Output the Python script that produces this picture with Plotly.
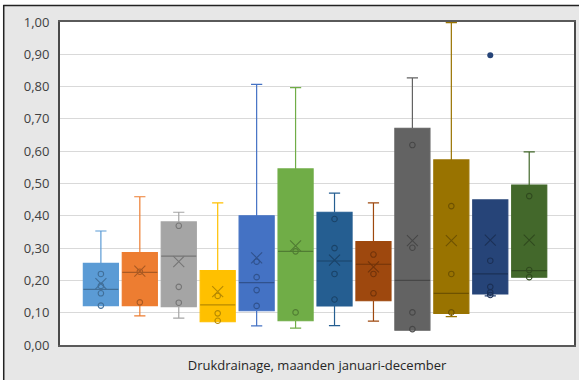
import plotly.graph_objects as go

months = ["jan", "feb", "mrt", "apr", "mei", "jun", "jul", "aug", "sep", "okt", "nov", "dec"]
colors = ["#5B9BD5", "#ED7D31", "#A5A5A5", "#FFC000", "#4472C4", "#70AD47",
          "#255E91", "#9E480E", "#636363", "#997300", "#264478", "#43682B"]

upper = [0.353, 0.459, 0.411, 0.440, 0.807, 0.797, 0.470, 0.440, 0.827, 0.998, 0.449, 0.598]
q3 = [0.253, 0.286, 0.381, 0.230, 0.400, 0.545, 0.411, 0.320, 0.671, 0.573, 0.449, 0.495]
median = [0.172, 0.225, 0.275, 0.124, 0.193, 0.290, 0.260, 0.250, 0.200, 0.160, 0.220, 0.230]
q1 = [0.122, 0.122, 0.119, 0.072, 0.106, 0.075, 0.121, 0.137, 0.046, 0.098, 0.158, 0.210]
lower = [0.122, 0.090, 0.083, 0.072, 0.059, 0.052, 0.060, 0.074, 0.046, 0.088, 0.152, 0.210]
mean = [0.190, 0.229, 0.258, 0.165, 0.270, 0.307, 0.263, 0.242, 0.323, 0.323, 0.325, 0.325]
inner_points = [
    [0.22, 0.183, 0.16, 0.122],
    [0.227, 0.132],
    [0.369, 0.18, 0.131],
    [0.152, 0.098, 0.075],
    [0.258, 0.21, 0.17, 0.121],
    [0.29, 0.101],
    [0.39, 0.30, 0.22, 0.141],
    [0.28, 0.22, 0.16],
    [0.619, 0.301, 0.101, 0.049],
    [0.43, 0.22, 0.101],
    [0.261, 0.18, 0.163, 0.155],
    [0.461, 0.232, 0.21],
]
outlier_month = [10]
outlier_value = [0.897]

x_title = "Drukdrainage, maanden januari-december"
y_ticks = [0.0, 0.1, 0.2, 0.3, 0.4, 0.5, 0.6, 0.7, 0.8, 0.9, 1.0]


def darker(hexcol, f=0.72):
    h = hexcol.lstrip("#")
    r, g, b = (int(h[i:i + 2], 16) for i in (0, 2, 4))
    return "rgb(%d,%d,%d)" % (r * f, g * f, b * f)


BOX_W = 0.9
fig = go.Figure()
for i, m in enumerate(months):
    c = colors[i]
    dk = darker(c)
    fig.add_trace(go.Box(
        x=[i], q1=[q1[i]], median=[median[i]], q3=[q3[i]],
        lowerfence=[lower[i]], upperfence=[upper[i]],
        name=m, boxpoints=False, width=BOX_W, whiskerwidth=0.32,
        fillcolor=c, line=dict(color=c, width=1.2), showlegend=False,
        hoverinfo="skip",
    ))
    fig.add_trace(go.Scatter(
        x=[i - BOX_W / 2, i + BOX_W / 2], y=[median[i], median[i]], mode="lines",
        line=dict(color=dk, width=1.2), showlegend=False, hoverinfo="skip",
    ))
    fig.add_trace(go.Scatter(
        x=[i] * len(inner_points[i]), y=inner_points[i], mode="markers",
        marker=dict(symbol="circle-open", size=5.5, color=dk, line=dict(width=1.1, color=dk)),
        showlegend=False, hoverinfo="skip",
    ))
    fig.add_trace(go.Scatter(
        x=[i], y=[mean[i]], mode="markers",
        marker=dict(symbol="x-thin-open", size=11, color=dk, line=dict(width=1.1, color=dk)),
        showlegend=False, hoverinfo="skip",
    ))

for mi, val in zip(outlier_month, outlier_value):
    fig.add_trace(go.Scatter(
        x=[mi], y=[val], mode="markers",
        marker=dict(symbol="circle", size=6, color=colors[mi]),
        showlegend=False, hoverinfo="skip",
    ))

W, H = 579, 380
L, R, T, B = 60, 3, 22, 35
pw, ph = W - L - R, H - T - B


def px_x(p):
    return (p - L) / pw


def px_y(p):
    return (H - B - p) / ph


# white strips outside the outer frame, and the frame lines
fig.add_shape(type="rect", xref="paper", yref="paper",
              x0=px_x(-5), x1=px_x(3), y0=px_y(H + 10), y1=px_y(-10),
              fillcolor="white", line=dict(width=0))
fig.add_shape(type="rect", xref="paper", yref="paper",
              x0=px_x(-5), x1=px_x(W + 10), y0=px_y(5), y1=px_y(-10),
              fillcolor="white", line=dict(width=0))
fig.add_shape(type="line", xref="paper", yref="paper",
              x0=px_x(3.5), x1=px_x(3.5), y0=px_y(H + 10), y1=px_y(5),
              line=dict(color="#222222", width=1.5))
fig.add_shape(type="line", xref="paper", yref="paper",
              x0=px_x(3), x1=px_x(W + 10), y0=px_y(5.5), y1=px_y(5.5),
              line=dict(color="#222222", width=1.5))

fig.update_layout(
    width=W, height=H,
    margin=dict(l=L, r=R, t=T, b=B),
    paper_bgcolor="#e7e7e7",
    plot_bgcolor="white",
    separators=",.",
    font=dict(family="Open Sans", size=13, color="#404040"),
    xaxis=dict(range=[-1.05, 12.15], showticklabels=False, ticks="", showgrid=False,
               zeroline=False, showline=True, mirror=True, linecolor="#5a5a5a", linewidth=2,
               title=dict(text=x_title, font=dict(size=13, color="#262626"), standoff=15)),
    yaxis=dict(range=[0, 1], tickvals=y_ticks, tickformat=".2f", showgrid=True,
               gridcolor="#d9d9d9", gridwidth=1, zeroline=False, showline=True, mirror=True,
               linecolor="#4a4a4a", linewidth=2, ticks="", ticklabelstandoff=6,
               tickfont=dict(size=13, color="#404040")),
)

fig.write_html("out.html")
